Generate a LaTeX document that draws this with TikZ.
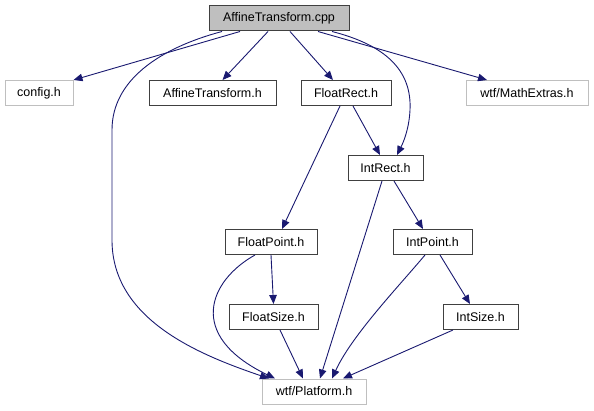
\documentclass[tikz,border=0pt]{standalone}
\usepackage{fontspec}
\setmainfont{Liberation Sans}
\usetikzlibrary{arrows.meta}
\definecolor{edgeblue}{HTML}{191970}
\definecolor{lightgrayb}{HTML}{BFBFBF}
\definecolor{darkb}{HTML}{404040}
\begin{document}
\begin{tikzpicture}[x=1pt,y=-1pt,
  box/.style={draw=darkb,line width=1pt,minimum height=25pt,inner sep=0pt,font=\fontsize{12.5}{14}\selectfont},
  ext/.style={box,draw=lightgrayb},
  root/.style={box,fill=lightgrayb},
  dep/.style={draw=edgeblue,line width=0.9pt,-{Triangle[length=9pt,width=7.5pt]}}]
\useasboundingbox (0,0) rectangle (594,411);
\node[root,minimum width=140pt] (cpp) at (279,18.5) {AffineTransform.cpp};
\node[ext,minimum width=68pt] (cfg) at (39,93) {config.h};
\node[box,minimum width=127pt] (ath) at (212.5,93) {AffineTransform.h};
\node[box,minimum width=90pt] (frect) at (346,93) {FloatRect.h};
\node[ext,minimum width=122pt] (math) at (527,93) {wtf/MathExtras.h};
\node[box,minimum width=75pt] (irect) at (385.5,168) {IntRect.h};
\node[box,minimum width=92pt] (fpt) at (271,242) {FloatPoint.h};
\node[box,minimum width=79pt] (ipt) at (432.5,242) {IntPoint.h};
\node[box,minimum width=89pt] (fsz) at (273.5,317) {FloatSize.h};
\node[box,minimum width=75pt] (isz) at (480.5,317) {IntSize.h};
\node[ext,minimum width=104pt] (plat) at (314,391.5) {wtf/Platform.h};

\draw[dep] ([xshift=-39pt]cpp.south) -- (cfg.north east);
\draw[dep] ([xshift=-11pt]cpp.south) -- ([xshift=10pt]ath.north);
\draw[dep] ([xshift=11pt]cpp.south) -- ([xshift=-13pt]frect.north);
\draw[dep] ([xshift=39pt]cpp.south) -- ([xshift=-40pt]math.north);
\draw[dep] ([xshift=53pt]cpp.south) .. controls (385,45) and (412,70) .. (410,110)
  .. controls (409,130) and (403,143) .. ([xshift=11.5pt]irect.north);
\draw[dep] ([xshift=-57pt]cpp.south) .. controls (160,48) and (112,80) .. (112,130)
  -- (112,240) .. controls (112,320) and (200,355) .. ([xshift=-45pt]plat.north);
\draw[dep] ([xshift=7pt]frect.south) -- ([xshift=-5.5pt]irect.north);
\draw[dep] ([xshift=-6pt]frect.south) -- ([xshift=11pt]fpt.north);
\draw[dep] ([xshift=-3.5pt]irect.south) -- ([xshift=6pt]plat.north);
\draw[dep] ([xshift=8.5pt]irect.south) -- ([xshift=-9.5pt]ipt.north);
\draw[dep] (fpt.south) -- (fsz.north);
\draw[dep] ([xshift=-16pt]fpt.south) .. controls (210,280) and (185,335) .. ([xshift=-39pt]plat.north);
\draw[dep] ([xshift=-7.5pt]ipt.south) .. controls (400,285) and (352,335) .. ([xshift=18pt]plat.north);
\draw[dep] ([xshift=7.5pt]ipt.south) -- ([xshift=-10.5pt]isz.north);
\draw[dep] ([xshift=6.5pt]fsz.south) -- ([xshift=-11pt]plat.north);
\draw[dep] ([xshift=-27.5pt]isz.south) -- ([xshift=29pt]plat.north);
\end{tikzpicture}
\end{document}
